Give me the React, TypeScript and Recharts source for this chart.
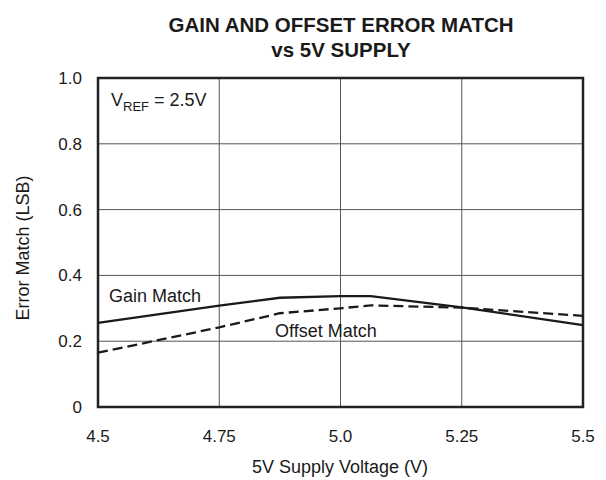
import React from "react"
import {
  CartesianGrid,
  Line,
  LineChart,
  ReferenceArea,
  XAxis,
  YAxis,
} from "recharts"

const supplyVolts = [4.5, 4.75, 4.875, 5.0, 5.0625, 5.25, 5.5]
const gainMatch = [0.256, 0.308, 0.332, 0.337, 0.337, 0.303, 0.249]
const offsetMatch = [0.165, 0.242, 0.285, 0.3, 0.309, 0.302, 0.277]

const xTicks = [4.5, 4.75, 5.0, 5.25, 5.5]
const xTickLabels = ["4.5", "4.75", "5.0", "5.25", "5.5"]
const yTicks = [0, 0.2, 0.4, 0.6, 0.8, 1.0]
const yTickLabels = ["0", "0.2", "0.4", "0.6", "0.8", "1.0"]

const data = supplyVolts.map((v, i) => ({
  v,
  gain: gainMatch[i],
  offset: offsetMatch[i],
}))

const font = "'Liberation Sans', Arial, Helvetica, sans-serif"
const ink = "#1a1a1a"

export default function App() {
  const txt: React.CSSProperties = {
    position: "absolute",
    fontFamily: font,
    fontSize: 18,
    color: ink,
    whiteSpace: "nowrap",
    lineHeight: 1,
  }
  return (
    <div style={{ position: "relative", width: 598, height: 472, background: "#fff" }}>
      <div
        style={{
          ...txt,
          left: 0,
          width: 666,
          top: 4,
          textAlign: "center",
          fontWeight: "bold",
          fontSize: 20.5,
          lineHeight: "25px",
        }}
      >
        GAIN AND OFFSET ERROR MATCH
        <br />
        vs 5V SUPPLY
      </div>

      <LineChart
        width={598}
        height={472}
        data={data}
        margin={{ top: 70, right: 23, bottom: 33, left: 30 }}
      >
        <CartesianGrid stroke="#555" strokeWidth={1} />
        <XAxis
          dataKey="v"
          type="number"
          domain={[4.5, 5.5]}
          ticks={xTicks}
          tickFormatter={(t: number) => xTickLabels[xTicks.indexOf(t)] ?? String(t)}
          axisLine={false}
          tickLine={false}
          tickSize={0}
          tickMargin={23}
          height={40}
          tick={{ fill: ink, fontSize: 17, fontFamily: font }}
        />
        <YAxis
          type="number"
          domain={[0, 1]}
          ticks={yTicks}
          tickFormatter={(t: number) => yTickLabels[yTicks.indexOf(t)] ?? String(t)}
          axisLine={false}
          tickLine={false}
          tickSize={0}
          tickMargin={16}
          width={60}
          tick={{ fill: ink, fontSize: 17, fontFamily: font }}
        />
        <ReferenceArea
          x1={4.5}
          x2={5.5}
          y1={0}
          y2={1}
          fill="none"
          fillOpacity={0}
          stroke="#222"
          strokeWidth={2.5}
          ifOverflow="visible"
        />
        <Line
          type="linear"
          dataKey="gain"
          stroke={ink}
          strokeWidth={2.3}
          dot={false}
          isAnimationActive={false}
        />
        <Line
          type="linear"
          dataKey="offset"
          stroke={ink}
          strokeWidth={2.3}
          strokeDasharray="10 5"
          dot={false}
          isAnimationActive={false}
        />
      </LineChart>

      <div style={{ ...txt, left: 103, top: 83 }}>
        V<span style={{ fontSize: 13, position: "relative", top: 5 }}>REF</span> = 2.5V
      </div>
      <div style={{ ...txt, left: 101, top: 279 }}>Gain Match</div>
      <div style={{ ...txt, left: 267, top: 314 }}>Offset Match</div>

      <div style={{ ...txt, left: 0, width: 664, top: 450, textAlign: "center" }}>
        5V Supply Voltage (V)
      </div>
      <div
        style={{
          ...txt,
          left: 15,
          top: 240,
          transform: "translate(-50%, -50%) rotate(-90deg)",
        }}
      >
        Error Match (LSB)
      </div>
    </div>
  )
}
